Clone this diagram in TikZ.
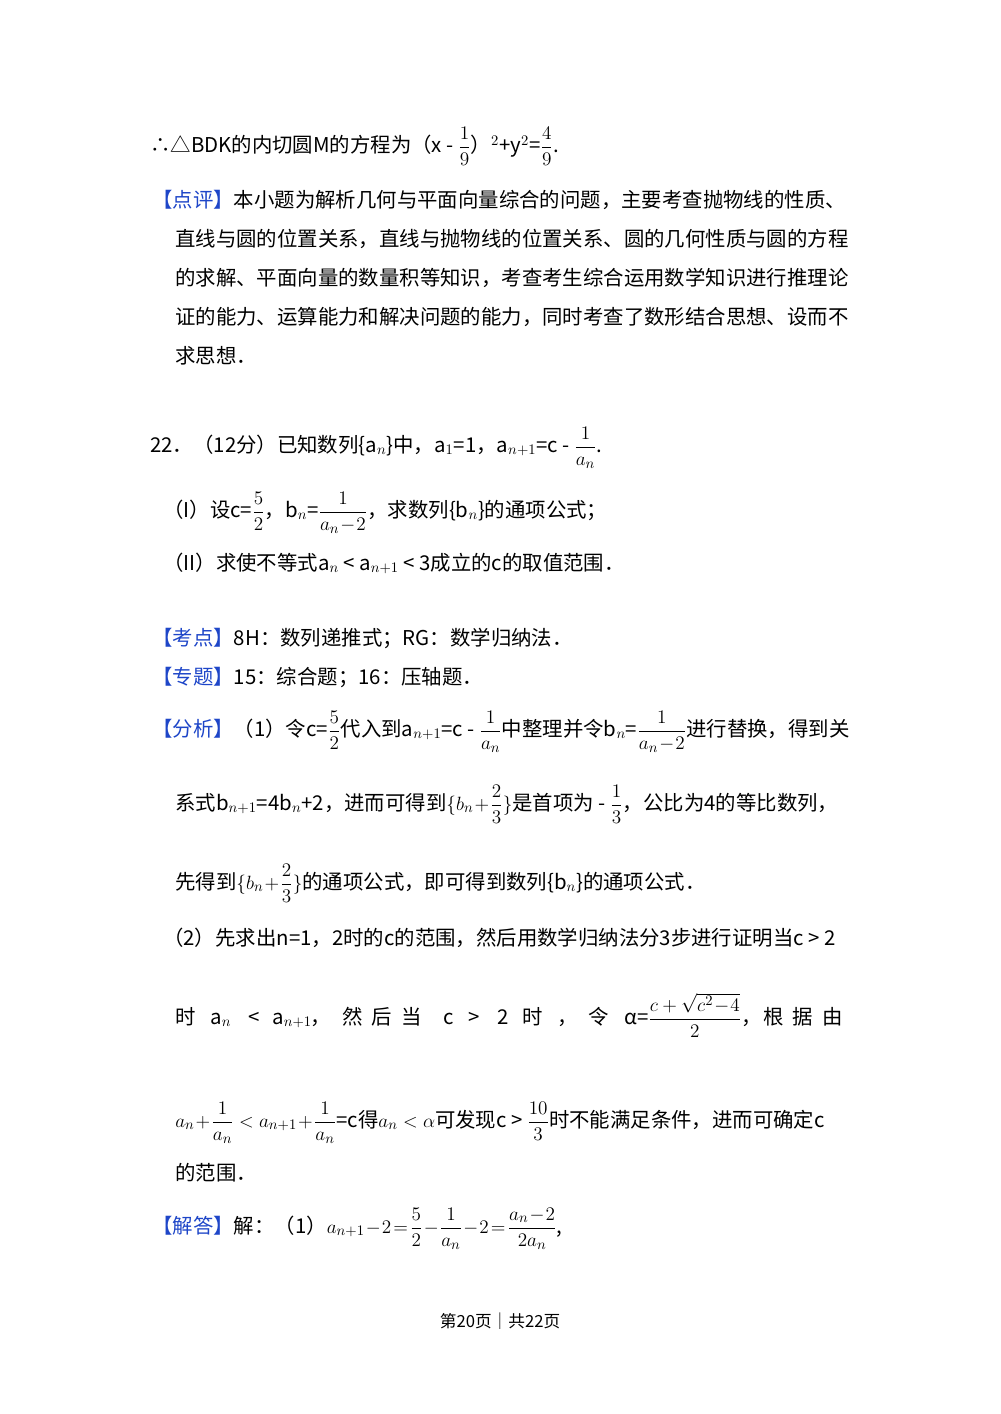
\documentclass[tikz,border=0pt]{standalone}
\usepackage{fontspec}
\setmainfont{Noto Sans CJK SC}
\usepackage{amsmath}
\definecolor{hb}{RGB}{30,70,200}
\newcommand{\hd}[1]{\textcolor{hb}{【#1】}}
\begin{document}
\begin{tikzpicture}[x=0.75pt,y=-0.75pt,
  t/.style={anchor=base west,inner sep=0pt,font=\fontsize{15.3}{18}\selectfont}]
\useasboundingbox (0,0) rectangle (1000,1414);
\node[t] (l1) at (150,152) {∴△BDK的内切圆M的方程为（x - $\dfrac{1}{9}$）$^{2}$+y$^{2}$=$\dfrac{4}{9}$.};
\node[t] (l2) at (152,207) {\hd{点评}本小题为解析几何与平面向量综合的问题，主要考查抛物线的性质、};
\node[t] (l3) at (175,246) {直线与圆的位置关系，直线与抛物线的位置关系、圆的几何性质与圆的方程};
\node[t] (l4) at (175,285) {的求解、平面向量的数量积等知识，考查考生综合运用数学知识进行推理论};
\node[t] (l5) at (175,324) {证的能力、运算能力和解决问题的能力，同时考查了数形结合思想、设而不};
\node[t] (l6) at (175,363) {求思想．};
\node[t] (l7) at (150,452) {22．（12分）已知数列\{a$_n$\}中，a$_1$=1，a$_{n+1}$=c - $\dfrac{1}{a_n}$.};
\node[t] (l8) at (163,517) {（I）设c=$\dfrac{5}{2}$，b$_n$=$\dfrac{1}{a_n\!-\!2}$，求数列\{b$_n$\}的通项公式；};
\node[t] (l9) at (163,570) {（II）求使不等式a$_n$ < a$_{n+1}$ < 3成立的c的取值范围．};
\node[t] (l10) at (152,645) {\hd{考点}8H：数列递推式；RG：数学归纳法．};
\node[t] (l11) at (152,684) {\hd{专题}15：综合题；16：压轴题．};
\node[t] (l12) at (152,736) {\hd{分析}（1）令c=$\dfrac{5}{2}$代入到a$_{n+1}$=c - $\dfrac{1}{a_n}$中整理并令b$_n$=$\dfrac{1}{a_n\!-\!2}$进行替换，得到关};
\node[t] (l13) at (175,810) {系式b$_{n+1}$=4b$_n$+2，进而可得到$\{b_n\!+\!\dfrac{2}{3}\}$是首项为 - $\dfrac{1}{3}$，公比为4的等比数列，};
\node[t] (l14) at (175,889) {先得到$\{b_n\!+\!\dfrac{2}{3}\}$的通项公式，即可得到数列\{b$_n$\}的通项公式．};
\node[t] (l15) at (163,945) {（2）先求出n=1，2时的c的范围，然后用数学归纳法分3步进行证明当c > 2};
\node[t] (l16a) at (175,1024) {时};
\node[t] (l16b) at (210,1024) {a$_n$};
\node[t] (l16c) at (248,1024) {<};
\node[t] (l16d) at (272,1024) {a$_{n+1}$};
\node[t] (l16e) at (310,1024) {，};
\node[t] (l16f) at (342,1024) {然\ \ 后\ \ 当};
\node[t] (l16g) at (443,1024) {c};
\node[t] (l16h) at (468,1024) {>};
\node[t] (l16i) at (497,1024) {2};
\node[t] (l16j) at (522,1024) {时};
\node[t] (l16k) at (557,1024) {，};
\node[t] (l16l) at (588,1024) {令};
\node[t] (l16m) at (624,1024) {α=$\dfrac{c+\sqrt{c^2\!-\!4}}{2}$，};
\node[t] (l16n) at (763,1024) {根\ \ 据\ \ 由};
\node[t] (l17) at (175,1127) {$a_n\!+\!\dfrac{1}{a_n}<a_{n+1}\!+\!\dfrac{1}{a_n}$=c得$a_n<\alpha$可发现c > $\dfrac{10}{3}$时不能满足条件，进而可确定c};
\node[t] (l18) at (175,1180) {的范围．};
\node[t] (l19) at (152,1233) {\hd{解答}解：（1）$a_{n+1}\!-\!2\!=\!\dfrac{5}{2}\!-\!\dfrac{1}{a_n}\!-\!2\!=\!\dfrac{a_n\!-\!2}{2a_n}$,};
\node[anchor=base,inner sep=0pt,font=\fontsize{12.5}{15}\selectfont] (ft) at (500,1327) {第20页｜共22页};
\end{tikzpicture}
\end{document}
